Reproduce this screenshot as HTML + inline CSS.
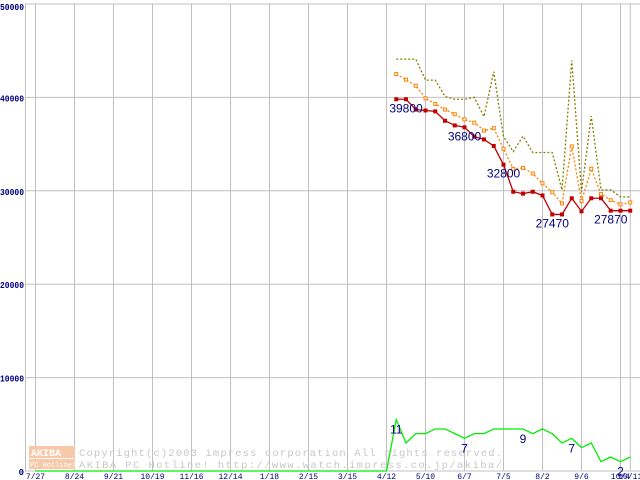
<!DOCTYPE html>
<html><head><meta charset="utf-8"><style>
body{margin:0;background:#fff;}
svg{display:block;font-family:"Liberation Mono",monospace;}
</style></head><body>
<svg id="chart" width="640" height="480" xmlns="http://www.w3.org/2000/svg">
<g id="grid"></g>
<g id="wm">
<rect x="29" y="446" width="46" height="12" fill="#f7c9a8"/>
<rect x="29" y="459" width="46" height="10" fill="#f7c9a8"/>
<text x="31" y="456" font-size="10" font-weight="bold" fill="#fff">AKIBA</text>
<text x="30" y="467" font-size="7" fill="#fff">PC Hotline!</text>
<text x="79" y="456" font-size="10.5" fill="#c8c8c8" textLength="423">Copyright(c)2003 impress corporation All rights reserved.</text>
<text x="79" y="468" font-size="10.5" fill="#c8c8c8" textLength="423">AKIBA PC Hotline!  http://www.watch.impress.co.jp/akiba/</text>
</g>
<g id="series"></g>
</svg>
<script>
const xLabels=["7/27","8/24","9/21","10/19","11/16","12/14","1/18","2/15","3/15","4/12","5/10","6/7","7/5","8/2","9/6","10/4","10/11"];
const yTicks=[0,10000,20000,30000,40000,50000];
const minPrice=[39800,39800,38700,38600,38500,37500,37000,36800,35800,35500,34800,32800,29900,29700,29900,29500,27470,27470,29200,27800,29200,29200,27870,27870,27870];
const avgPrice=[42500,41900,41250,39900,39300,38700,38200,37650,37300,36450,36700,34500,32350,32450,31850,30800,29850,28650,34750,28900,32350,29650,29000,28550,28750];
const maxPrice=[44100,44100,44100,41850,41850,40100,39800,39800,40000,37950,42750,35800,34200,35850,34100,34100,34100,30100,43950,29900,38000,30100,30100,29350,29350];
const shopCount=[11,6,8,8,9,9,8,7,8,8,9,9,9,9,8,9,8,6,7,5,6,2,3,2,3];
const priceLabels=[[1,39800],[7,36800],[11,32800],[16,27470],[22,27870]];
const countLabels=[0,7,13,18,23];
const NS="http://www.w3.org/2000/svg";
const X0=35.5,WEEK=9.75,START=37; // series start week index (4/19)
const yv=v=>471-v*(467/50000);
const xw=i=>X0+i*WEEK;
function el(tag,attrs,parent,txt){const e=document.createElementNS(NS,tag);for(const k in attrs)e.setAttribute(k,attrs[k]);if(txt!==undefined)e.textContent=txt;parent.appendChild(e);return e;}
const grid=document.getElementById('grid'),S=document.getElementById('series');
yTicks.forEach(t=>{const l=el('line',{x1:25,x2:640,y1:yv(t),y2:yv(t),stroke:'#c0c0c0','stroke-width':1},grid);


const s=String(t);
const attrs={x:24,y:yv(t)+(t===50000?6:4),'text-anchor':'end','font-size':9,'font-weight':'bold',fill:'#000080'};
if(s.length>1){attrs.textLength=s.length*4.8;attrs.lengthAdjust='spacingAndGlyphs';}
const tx=el('text',attrs,grid,s);

});
el('line',{x1:25.5,x2:25.5,y1:4,y2:471,stroke:'#c0c0c0'},grid);
xLabels.forEach((lab,i)=>{const x=i<16?X0+i*39:X0+15*39+WEEK;
const l=el('line',{x1:x,x2:x,y1:4,y2:471,stroke:'#c0c0c0'},grid);


const tx=el('text',{x:x,y:479,'text-anchor':'middle','font-size':8,fill:'#000080'},grid,lab);

});
// green shop count line
let gp=[[xw(0),471],[xw(START-1),471]];
shopCount.forEach((c,i)=>gp.push([xw(START+i),yv(c*500)]));
const g=el('polyline',{points:gp.map(p=>p.join(',')).join(' '),fill:'none',stroke:'#00ee00','stroke-width':1.3},S);


countLabels.forEach(i=>{const t=el('text',{x:xw(START+i),y:yv(shopCount[i]*500)+14,'text-anchor':'middle','font-size':12,fill:'#000080','font-family':'Liberation Sans'},S,String(shopCount[i]));

});
function line(arr,color,dash,name){const pts=arr.map((v,i)=>xw(START+i)+','+yv(v)).join(' ');
const p=el('polyline',{points:pts,fill:'none',stroke:color,'stroke-width':1.3,'stroke-dasharray':dash},S);

return p;}
line(maxPrice,'#808000','2,2','max-price-line');
line(avgPrice,'#ff8000','2,2','avg-price-line');
avgPrice.forEach((v,i)=>{const r=el('rect',{x:xw(START+i)-1.5,y:yv(v)-1.5,width:3,height:3,fill:'#fff',stroke:'#ff8000','stroke-width':1},S);

});
line(minPrice,'#c00000','','min-price-line');
minPrice.forEach((v,i)=>{const r=el('rect',{x:xw(START+i)-2,y:yv(v)-2,width:4,height:4,fill:'#c00000'},S);

});
priceLabels.forEach(([i,v])=>{const t=el('text',{x:xw(START+i),y:yv(v)+13,'text-anchor':'middle','font-size':12,fill:'#000080','font-family':'Liberation Sans'},S,String(v));

});
</script>
</body></html>
